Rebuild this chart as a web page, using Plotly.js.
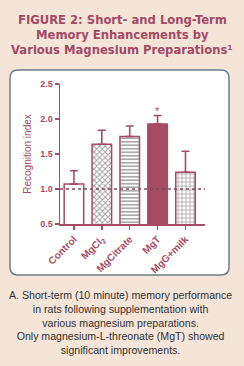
<!DOCTYPE html>
<html>
<head>
<meta charset="utf-8">
<script src="https://cdn.plot.ly/plotly-3.0.1.min.js"></script>
<style>
html,body{margin:0;padding:0;background:#f5e4d8;}
#chart{width:244px;height:366px;}
</style>
</head>
<body>
<div id="chart"></div>
<script>
// ---- data ----
const categories = ['Control', 'MgCl<sub>2</sub>', 'MgCitrate', 'MgT', 'MgG+milk'];
const values = [1.07, 1.64, 1.75, 1.93, 1.24];
const errorsUp = [0.19, 0.20, 0.15, 0.12, 0.30];
const yTicks = [0.5, 1.0, 1.5, 2.0, 2.5];
const significance = ['', '', '', '*', ''];
const titleLines = ['FIGURE 2: Short- and Long-Term', 'Memory Enhancements by', 'Various Magnesium Preparations¹'];
const captionText = 'A. Short-term (10 minute) memory performance<br>in rats following supplementation with<br>various magnesium preparations.<br>Only magnesium-L-threonate (MgT) showed<br>significant improvements.';

// ---- style ----
const MAROON = '#a54b66';
const BG = '#f5e4d8';
const W = 244, H = 366;
const M = {l: 60, r: 39, t: 84, b: 142};
const PW = W - M.l - M.r, PH = H - M.t - M.b;
const fx = px => (px - M.l) / PW;
const fy = py => (H - M.b - py) / PH;

const patterns = [
  {shape: '', bgcolor: 'white'},
  {shape: 'x', size: 4, solidity: 0.45, fgcolor: MAROON, bgcolor: 'white'},
  {shape: '-', size: 3.5, solidity: 0.45, fgcolor: MAROON, bgcolor: 'white'},
  {shape: '', bgcolor: MAROON},
  {shape: '+', size: 4, solidity: 0.35, fgcolor: MAROON, bgcolor: 'white'}
];
const fills = ['white', 'white', 'white', MAROON, 'white'];

const trace = {
  type: 'bar',
  x: categories,
  y: values,
  width: 0.7,
  marker: {
    color: fills,
    pattern: {
      shape: patterns.map(p => p.shape),
      size: patterns.map(p => p.size || 4),
      solidity: patterns.map(p => p.solidity || 0.5),
      fgcolor: patterns.map(p => p.fgcolor || MAROON),
      bgcolor: patterns.map(p => p.bgcolor),
      fillmode: 'overlay'
    },
    line: {color: MAROON, width: 1.5}
  },
  error_y: {
    type: 'data', symmetric: false,
    array: errorsUp, arrayminus: errorsUp.map(() => 0),
    color: MAROON, thickness: 1.6, width: 4
  },
  hoverinfo: 'none'
};

// rounded panel path in paper coords
function roundedRect(x0, y0, x1, y1, r) {
  const X = fx, Y = fy;
  return 'M ' + X(x0 + r) + ' ' + Y(y0) +
    ' L ' + X(x1 - r) + ' ' + Y(y0) +
    ' Q ' + X(x1) + ' ' + Y(y0) + ' ' + X(x1) + ' ' + Y(y0 + r) +
    ' L ' + X(x1) + ' ' + Y(y1 - r) +
    ' Q ' + X(x1) + ' ' + Y(y1) + ' ' + X(x1 - r) + ' ' + Y(y1) +
    ' L ' + X(x0 + r) + ' ' + Y(y1) +
    ' Q ' + X(x0) + ' ' + Y(y1) + ' ' + X(x0) + ' ' + Y(y1 - r) +
    ' L ' + X(x0) + ' ' + Y(y0 + r) +
    ' Q ' + X(x0) + ' ' + Y(y0) + ' ' + X(x0 + r) + ' ' + Y(y0) + ' Z';
}

const titleY = [20, 35, 49.5];
const annotations = titleLines.map((t, i) => ({
  xref: 'paper', yref: 'paper', x: fx(122), y: fy(titleY[i]), xanchor: 'center', yanchor: 'middle',
  text: '<b>' + t + '</b>', showarrow: false, align: 'center',
  font: {family: 'DejaVu Sans, Arial, sans-serif', size: 11.6, color: '#a24a63'}
}));
annotations.push(
  {xref: 'paper', yref: 'paper', x: fx(120), y: fy(322), xanchor: 'center', yanchor: 'middle',
   text: captionText, showarrow: false, align: 'center',
   font: {family: 'Liberation Sans, Arial, sans-serif', size: 10.6, color: '#333333'}}
);
categories.forEach((c, i) => {
  if (significance[i]) {
    annotations.push({x: c, y: values[i] + errorsUp[i], yshift: 5, text: significance[i],
      showarrow: false, font: {size: 11, color: MAROON, family: 'Liberation Sans, Arial'}});
  }
});

const layout = {
  width: W, height: H,
  margin: M,
  paper_bgcolor: BG,
  plot_bgcolor: 'rgba(0,0,0,0)',
  showlegend: false,
  font: {family: 'Liberation Sans, Arial, sans-serif', color: MAROON},
  xaxis: {
    range: [-0.5, 4.7],
    showline: true, linecolor: MAROON, linewidth: 1.5,
    ticks: 'outside', ticklen: 4, tickcolor: MAROON, tickwidth: 1.5,
    tickangle: -45,
    tickfont: {size: 10, color: MAROON, family: 'Liberation Sans, Arial', weight: 'bold'},
    showgrid: false, zeroline: false, fixedrange: true
  },
  yaxis: {
    range: [0.5, 2.5],
    tickvals: yTicks, tickformat: '.1f',
    showline: true, linecolor: MAROON, linewidth: 1.5,
    ticks: 'outside', ticklen: 4, tickcolor: MAROON, tickwidth: 1.5,
    tickfont: {size: 9, color: MAROON, family: 'Liberation Sans, Arial', weight: 'bold'},
    title: {text: 'Recognition index', standoff: 6, font: {size: 10, color: MAROON}},
    showgrid: false, zeroline: false, fixedrange: true
  },
  shapes: [
    {type: 'path', xref: 'paper', yref: 'paper', layer: 'below',
     path: roundedRect(10, 70, 229, 275, 8),
     fillcolor: 'white', line: {color: '#6e7d8c', width: 1.5}},
    {type: 'line', xref: 'paper', yref: 'y', x0: 0, x1: 1, y0: 1, y1: 1, layer: 'above',
     line: {color: '#7e4a5b', width: 1.6, dash: 'dot'}}
  ],
  annotations: annotations
};

Plotly.newPlot('chart', [trace], layout, {displayModeBar: false, staticPlot: true});
</script>
</body>
</html>
